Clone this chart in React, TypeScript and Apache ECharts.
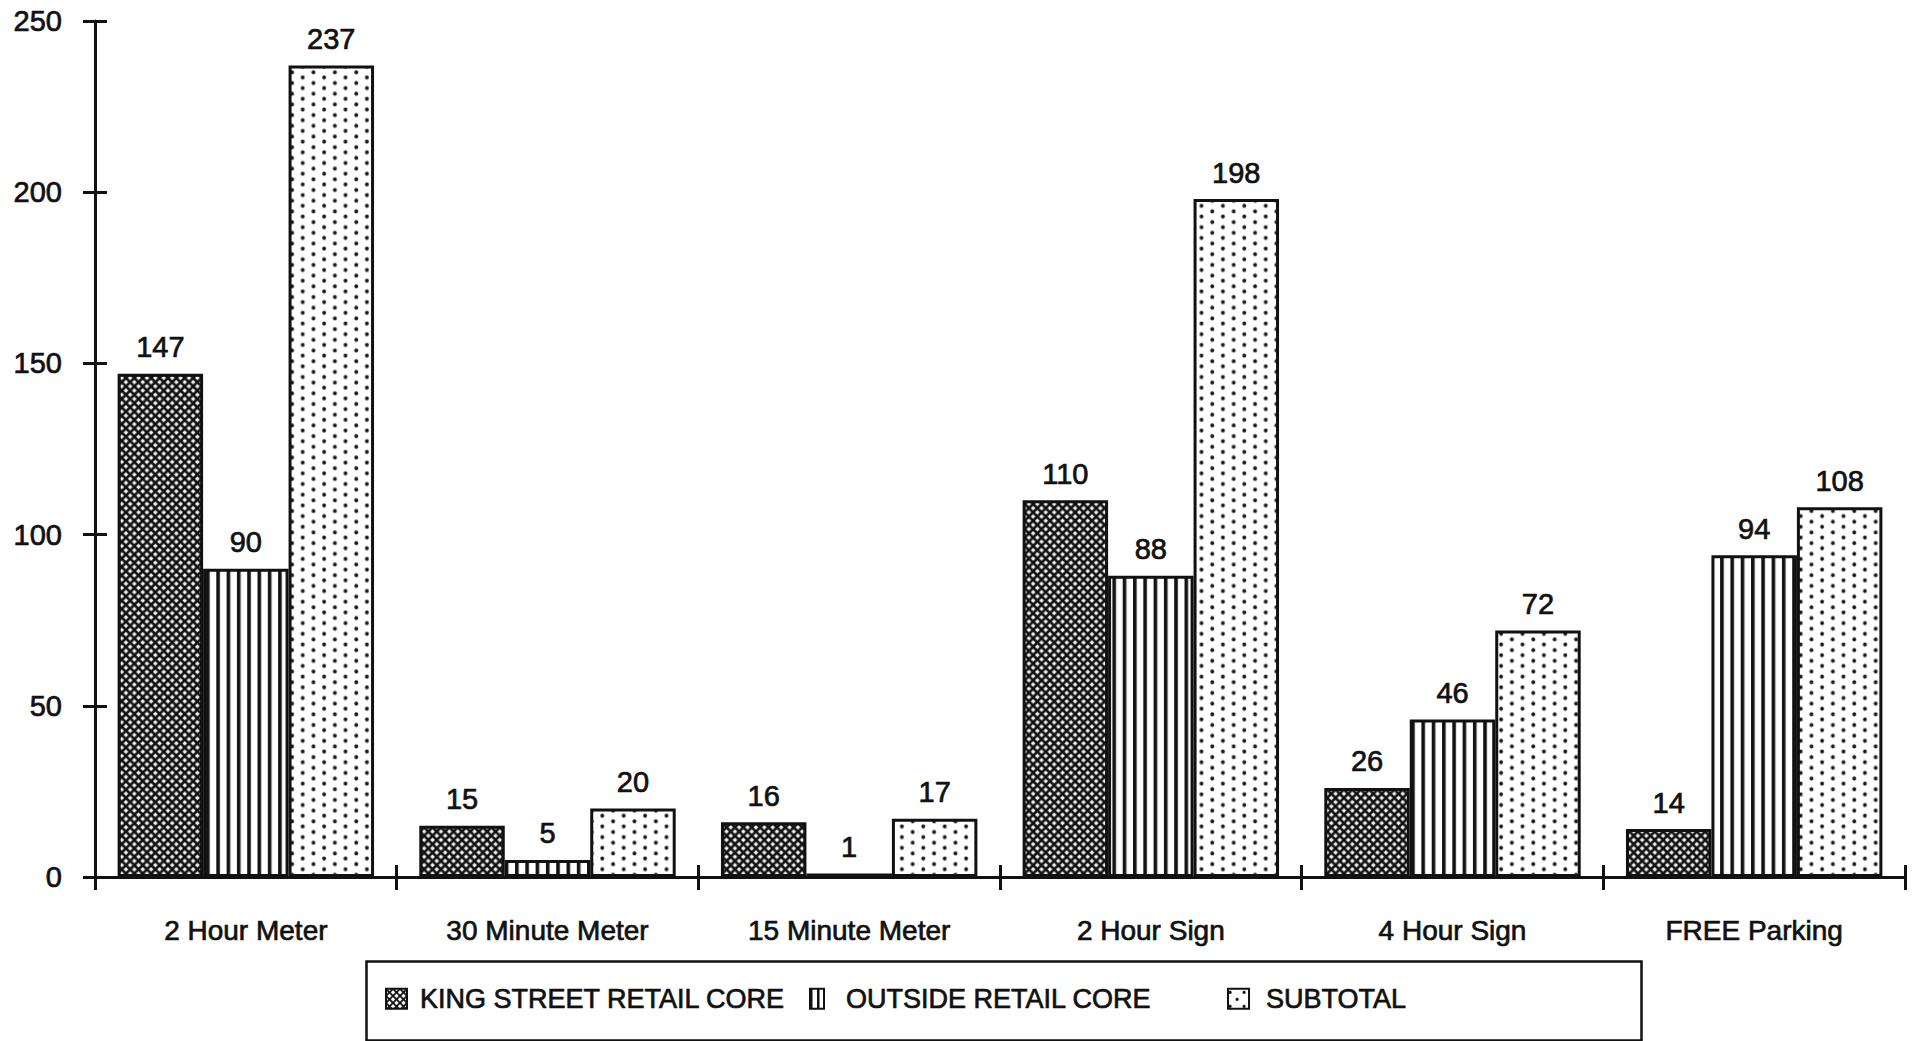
import { useEffect, useRef } from 'react';
import * as echarts from 'echarts';

// Parking space counts by regulation type
const categories = [
  '2 Hour Meter',
  '30 Minute Meter',
  '15 Minute Meter',
  '2 Hour Sign',
  '4 Hour Sign',
  'FREE Parking',
];
const kingStreetCore = [147, 15, 16, 110, 26, 14];
const outsideCore = [90, 5, 1, 88, 46, 94];
const subtotal = [237, 20, 17, 198, 72, 108];
const seriesNames = ['KING STREET RETAIL CORE', 'OUTSIDE RETAIL CORE', 'SUBTOTAL'];
const yMin = 0;
const yMax = 250;
const yStep = 50;

const FONT = '"Liberation Sans", Arial, Helvetica, sans-serif';
const INK = '#111';
// A thin outline in the text colour gives the print-like heavier strokes.
const heavy = { textBorderColor: INK, textBorderWidth: 0.7 };

// Build a repeating black-and-white fill tile, drawn at 4x for crisp edges.
function makePattern(w: number, h: number, draw: (ctx: CanvasRenderingContext2D, w: number, h: number) => void) {
  const s = 4;
  const c = document.createElement('canvas');
  c.width = Math.round(w * s);
  c.height = Math.round(h * s);
  const ctx = c.getContext('2d')!;
  ctx.scale(s, s);
  ctx.fillStyle = '#fff';
  ctx.fillRect(0, 0, w, h);
  ctx.fillStyle = INK;
  ctx.strokeStyle = INK;
  draw(ctx, w, h);
  return { image: c.toDataURL(), repeat: 'repeat', imageWidth: w, imageHeight: h } as any;
}

function crossHatch(size: number, lw: number) {
  return makePattern(size, size, (ctx, w) => {
    ctx.lineWidth = lw;
    for (let k = -1; k <= 1; k++) {
      ctx.beginPath();
      ctx.moveTo(k * w, 0);
      ctx.lineTo(k * w + w, w);
      ctx.moveTo(k * w + w, 0);
      ctx.lineTo(k * w, w);
      ctx.stroke();
    }
  });
}

function stripes(period: number, black: number) {
  return makePattern(period, 4, (ctx, w, h) => {
    ctx.fillRect(0, 0, black, h);
  });
}

function dots(cw: number, ch: number, r: number) {
  return makePattern(cw, ch, (ctx, w, h) => {
    const pts = [
      [w * 0.15, h * 0.25],
      [w * 0.65, h * 0.75],
    ];
    for (const [x, y] of pts) {
      ctx.beginPath();
      ctx.arc(x, y, r, 0, Math.PI * 2);
      ctx.fill();
    }
  });
}

export default function App() {
  const ref = useRef<HTMLDivElement>(null);

  useEffect(() => {
    document.body.style.margin = '0';
    if (!ref.current) return;
    const chart = echarts.init(ref.current, undefined, { renderer: 'svg' });

    const fills = [crossHatch(8.4, 2.7), stripes(10.3, 3.6), dots(21.4, 10.7, 1.9)];
    const iconFills = [crossHatch(7, 1.8), stripes(7, 2.5), dots(14, 14, 1.6)];
    const seriesData = [kingStreetCore, outsideCore, subtotal];

    const axisLineStyle = { color: INK, width: 3 };

    const legendSpots = [
      { left: 385, width: 21, pad: 8 },
      { left: 809, width: 14, pad: 17 },
      { left: 1227, width: 21, pad: 12 },
    ];

    chart.setOption({
      animation: false,
      backgroundColor: '#fff',
      textStyle: { fontFamily: FONT, color: INK },
      grid: { left: 95, right: 10, top: 21, bottom: 164, containLabel: false },
      xAxis: [
        {
          type: 'category',
          data: categories,
          position: 'bottom',
          axisLine: { show: true, lineStyle: axisLineStyle },
          axisTick: { show: true, length: 13, lineStyle: axisLineStyle },
          axisLabel: { color: INK, fontSize: 28, fontFamily: FONT, margin: 39, ...heavy },
          splitLine: { show: false },
        },
        {
          type: 'category',
          data: categories,
          position: 'bottom',
          axisLine: { show: false },
          axisTick: { show: true, inside: true, length: 12, lineStyle: axisLineStyle },
          axisLabel: { show: false },
          splitLine: { show: false },
        },
      ],
      yAxis: [
        {
          type: 'value',
          min: yMin,
          max: yMax,
          interval: yStep,
          position: 'left',
          axisLine: { show: true, lineStyle: axisLineStyle },
          axisTick: { show: true, length: 12, lineStyle: axisLineStyle },
          axisLabel: { color: INK, fontSize: 29, fontFamily: FONT, margin: 33, ...heavy },
          splitLine: { show: false },
        },
        {
          type: 'value',
          min: yMin,
          max: yMax,
          interval: yStep,
          position: 'left',
          axisLine: { show: false },
          axisTick: { show: true, inside: true, length: 12, lineStyle: axisLineStyle },
          axisLabel: { show: false },
          splitLine: { show: false },
        },
      ],
      legend: seriesNames.map((name, i) => ({
        data: [name],
        left: legendSpots[i].left,
        top: 985,
        padding: 0,
        selectedMode: false,
        icon: 'rect',
        itemWidth: legendSpots[i].width,
        itemHeight: 20,
        itemStyle: { color: iconFills[i], borderColor: INK, borderWidth: 2 },
        textStyle: {
          color: INK,
          fontSize: 27,
          fontFamily: FONT,
          padding: [0, 0, 0, legendSpots[i].pad],
          ...heavy,
        },
      })),
      graphic: [
        {
          type: 'rect',
          left: 364,
          top: 959,
          shape: { width: 1275, height: 79 },
          style: { fill: 'none', stroke: INK, lineWidth: 2.5 },
          silent: true,
        },
      ],
      series: seriesNames.map((name, i) => ({
        name,
        type: 'bar',
        data: seriesData[i],
        barGap: '0%',
        barCategoryGap: '15%',
        itemStyle: { color: fills[i], borderColor: INK, borderWidth: 3 },
        label: {
          show: true,
          position: 'top',
          distance: 12,
          color: INK,
          fontSize: 29,
          fontFamily: FONT,
          ...heavy,
        },
      })),
    });

    return () => chart.dispose();
  }, []);

  return <div ref={ref} style={{ width: 1915, height: 1041 }} />;
}
